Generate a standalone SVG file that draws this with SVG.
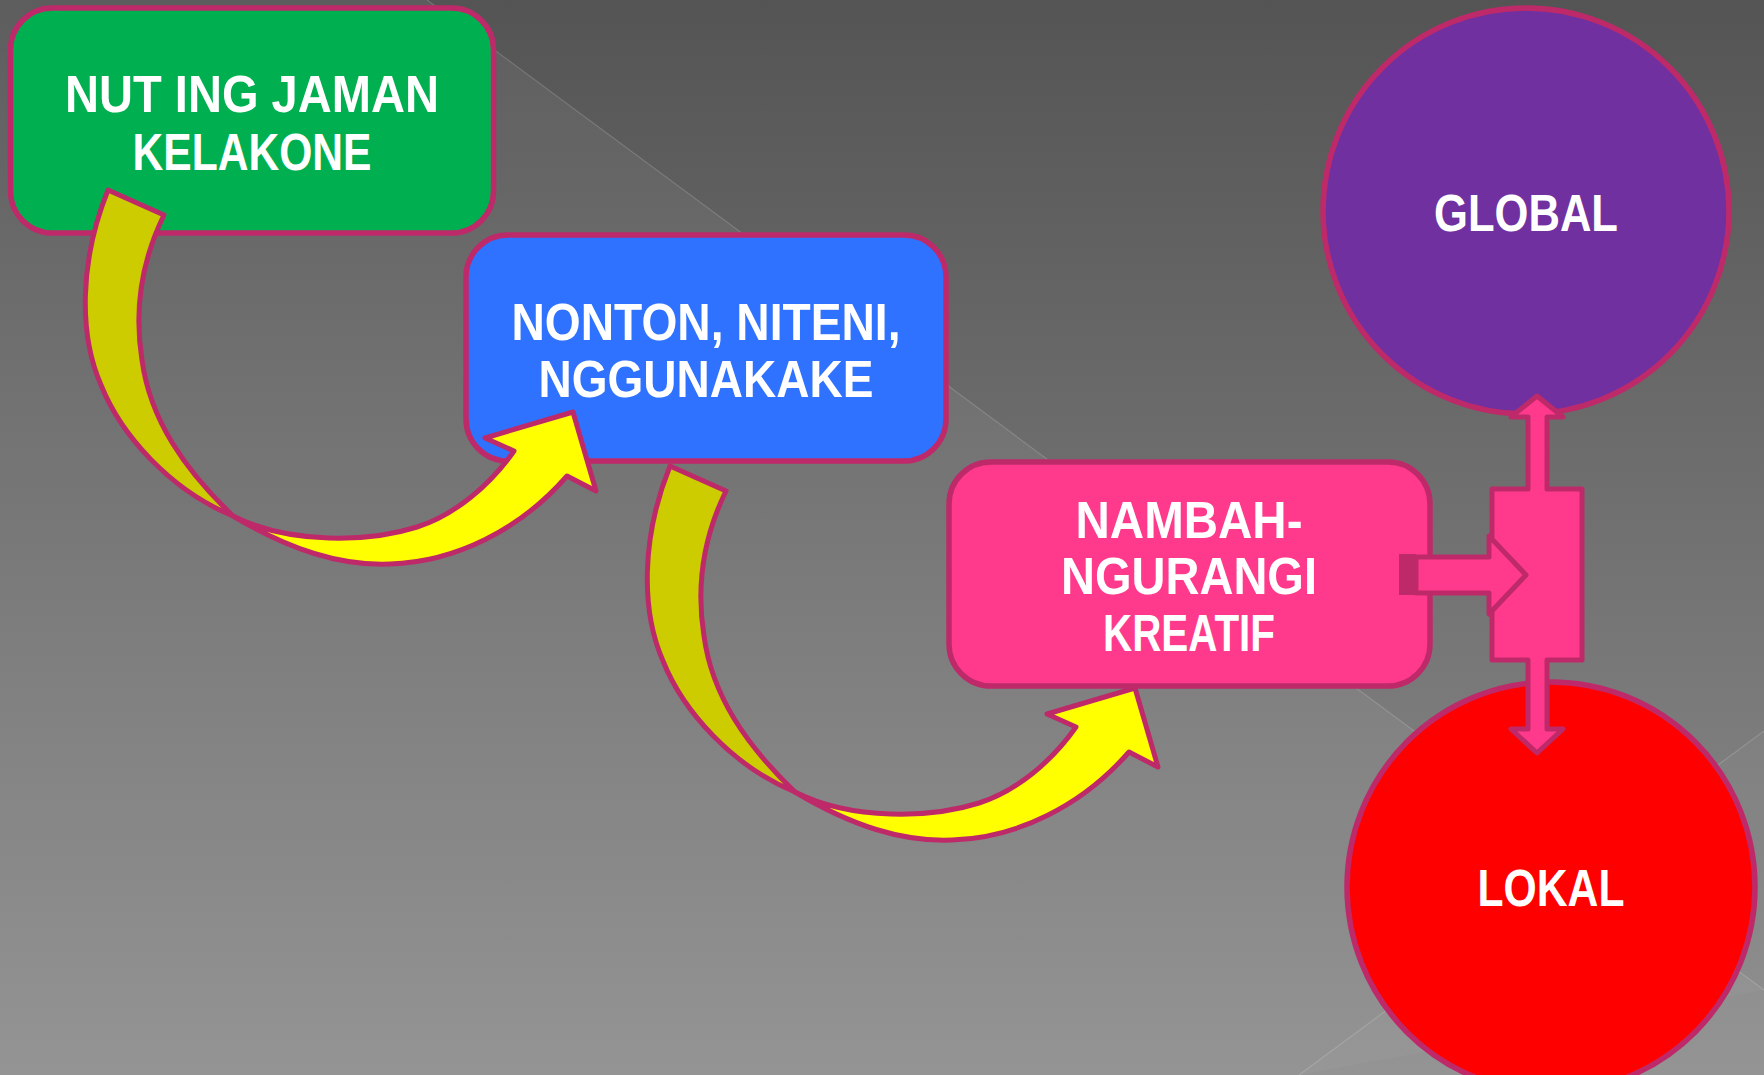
<svg xmlns="http://www.w3.org/2000/svg" xmlns:xlink="http://www.w3.org/1999/xlink" width="1764" height="1075" viewBox="0 0 1764 1075">
  <style>
    .box { stroke: #BE2A69; stroke-width: 5.5; }
    .lbl { font-family: "Liberation Sans", Arial, sans-serif; font-weight: bold; font-size: 51px; fill: #FFFFFF; text-anchor: middle; }
    .edge { stroke: #BE2A69; stroke-width: 5; stroke-linejoin: round; }
    .bgline { stroke: #FFFFFF; stroke-opacity: 0.16; stroke-width: 1.2; fill: none; }
  </style>
  <defs>
    <linearGradient id="bg" x1="0" y1="0" x2="0" y2="1">
      <stop offset="0" stop-color="#545454"/>
      <stop offset="1" stop-color="#8e8e8e"/>
    </linearGradient>
    <g id="curveArrow">
      <path d="M108,190 C79,262 79,335 101,385 C121,435 170,490 233,516 C185,470 150,420 142,360 C134,310 142,260 164,215 Z" fill="#CCCC00" class="edge"/>
      <path d="M233,516 C290,550 340,566 390,564 C455,562 520,530 567,476 L596,491 L573,412 L485,438 L514,451 C490,485 455,515 417,527 C370,542 290,545 233,516 Z" fill="#FFFF00" class="edge"/>
    </g>
  </defs>

  <g id="background">
    <rect x="0" y="0" width="1764" height="1075" fill="url(#bg)"/>
    <polygon points="427,0 1764,990 1764,1075 0,1075 0,0" fill="#FFFFFF" fill-opacity="0.055"/>
    <polygon points="1299,1075 1764,731 1764,990" fill="#FFFFFF" fill-opacity="0.03"/>
    <line x1="427" y1="0" x2="1764" y2="990" class="bgline"/>
    <line x1="1299" y1="1075" x2="1764" y2="731" class="bgline"/>
  </g>

  <g id="nodes">
    <g id="node-jaman">
      <rect x="10.5" y="8" width="483" height="225" rx="42" fill="#00B050" class="box"/>
      <text class="lbl" x="252" y="112" textLength="374" lengthAdjust="spacingAndGlyphs">NUT ING JAMAN</text>
      <text class="lbl" x="252" y="170" textLength="239" lengthAdjust="spacingAndGlyphs">KELAKONE</text>
    </g>
    <g id="node-nonton">
      <rect x="466" y="235" width="480" height="226" rx="42" fill="#2F72FF" class="box"/>
      <text class="lbl" x="706" y="340" textLength="389" lengthAdjust="spacingAndGlyphs">NONTON, NITENI,</text>
      <text class="lbl" x="706" y="397" textLength="335" lengthAdjust="spacingAndGlyphs">NGGUNAKAKE</text>
    </g>
    <g id="node-nambah">
      <rect x="949" y="462" width="481" height="224" rx="42" fill="#FF3A8C" class="box"/>
      <text class="lbl" x="1189" y="538" textLength="227" lengthAdjust="spacingAndGlyphs">NAMBAH-</text>
      <text class="lbl" x="1189" y="594" textLength="256" lengthAdjust="spacingAndGlyphs">NGURANGI</text>
      <text class="lbl" x="1189" y="651" textLength="172" lengthAdjust="spacingAndGlyphs">KREATIF</text>
    </g>
    <g id="node-global">
      <ellipse cx="1526" cy="211" rx="203" ry="203" fill="#7030A0" class="box"/>
      <text class="lbl" x="1526" y="231" textLength="184" lengthAdjust="spacingAndGlyphs">GLOBAL</text>
    </g>
    <g id="node-lokal">
      <ellipse cx="1551" cy="887" rx="204" ry="205" fill="#FF0000" class="box"/>
      <text class="lbl" x="1551" y="906" textLength="147" lengthAdjust="spacingAndGlyphs">LOKAL</text>
    </g>
  </g>

  <g id="connectors">
    <use xlink:href="#curveArrow"/>
    <use xlink:href="#curveArrow" transform="translate(562,276)"/>
    <path d="M1537,396 L1563,417 L1547,417 L1547,489 L1582,489 L1582,660 L1547,660 L1547,729 L1563,729 L1537,753 L1511,729 L1528,729 L1528,660 L1492,660 L1492,489 L1528,489 L1528,417 L1511,417 Z" fill="#FF3A8C" class="edge" stroke-linejoin="miter"/>
    <rect x="1399" y="554" width="17" height="41" fill="#BE2A69"/>
    <path d="M1416,557 L1489,557 L1489,536 L1526,575 L1489,614 L1489,593 L1416,593 Z" fill="#FF3A8C" class="edge" stroke-linejoin="miter"/>
  </g>
</svg>
